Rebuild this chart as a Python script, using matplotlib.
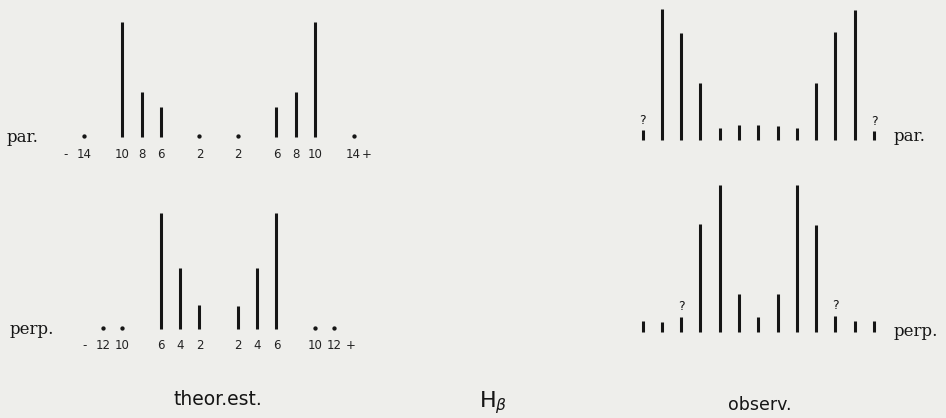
import numpy as np
import matplotlib
matplotlib.use("Agg")
import matplotlib.pyplot as plt

# theoretical components (position in units, relative intensity; 0 = dot only)
theor_par_pos = np.array([-14, -10, -8, -6, -2, 2, 6, 8, 10, 14])
theor_par_int = np.array([0, 115, 45, 30, 0, 0, 30, 45, 115, 0])
theor_perp_pos = np.array([-12, -10, -6, -4, -2, 2, 4, 6, 10, 12])
theor_perp_int = np.array([0, 0, 116, 61, 24, 23, 61, 116, 0, 0])

# observed components
obs_pos = np.arange(-12, 13, 2)
obs_par_int = np.array([10, 131, 107, 57, 12, 15, 15, 14, 12, 57, 108, 130, 9])
obs_perp_int = np.array([11, 10, 15, 108, 147, 38, 15, 38, 147, 107, 16, 11, 11])
obs_par_doubt = [-12, 12]
obs_perp_doubt = [-8, 8]

W, H = 946, 418
BG = "#eeeeeb"
INK = "#151515"

fig = plt.figure(figsize=(W / 100, H / 100), dpi=100, facecolor=BG)


def panel(cx, base, unit=9.63):
    # axes where 1 y unit = 1 pixel and x is in component units
    x0 = cx - 16 * unit
    ax = fig.add_axes([x0 / W, (H - base) / H, 32 * unit / W, 150 / H])
    ax.set_xlim(-16, 16)
    ax.set_ylim(0, 150)
    ax.set_facecolor("none")
    for s in ax.spines.values():
        s.set_visible(False)
    ax.set_xticks([])
    ax.set_yticks([])
    return ax


def draw_lines(ax, pos, inten, lw=2.2):
    on = inten > 0
    ax.vlines(pos[on], 0, inten[on], color=INK, lw=lw, clip_on=False)
    ax.plot(pos[~on], np.full((~on).sum(), 1.5), "o", ms=2.1, color=INK,
            clip_on=False)


num_kw = dict(fontsize=8.5, color="#222222", ha="center", va="center",
              family="DejaVu Sans")
lab_kw = dict(fontsize=12, color=INK, va="baseline", family="DejaVu Serif")
q_kw = dict(fontsize=9, color=INK, ha="center", va="bottom")

# theoretical, parallel
ax1 = panel(218.7, 137)
draw_lines(ax1, theor_par_pos, theor_par_int)
for p in theor_par_pos:
    ax1.text(p, -18, str(abs(p)), **num_kw)
ax1.text(-15.9, -18, "-", **num_kw)
ax1.text(15.4, -18, "+", **num_kw)
ax1.text(-22, -5, "par.", ha="left", **lab_kw)

# theoretical, perpendicular
ax2 = panel(218.7, 329.3)
draw_lines(ax2, theor_perp_pos, theor_perp_int)
for p in theor_perp_pos:
    ax2.text(p, -16, str(abs(p)), **num_kw)
ax2.text(-13.9, -16, "-", **num_kw)
ax2.text(13.7, -16, "+", **num_kw)
ax2.text(-21.7, -5, "perp.", ha="left", **lab_kw)

# observed, parallel
ax3 = panel(758.3, 140, unit=9.64)
draw_lines(ax3, obs_pos, obs_par_int)
for p in obs_par_doubt:
    h = obs_par_int[obs_pos == p][0]
    ax3.text(p, h + 3, "?", **q_kw)
ax3.text(14.0, -1, "par.", ha="left", **lab_kw)

# observed, perpendicular
ax4 = panel(758.3, 332.3, unit=9.64)
draw_lines(ax4, obs_pos, obs_perp_int)
for p in obs_perp_doubt:
    h = obs_perp_int[obs_pos == p][0]
    ax4.text(p, h + 4, "?", **q_kw)
ax4.text(14.0, -4, "perp.", ha="left", **lab_kw)

fig.text(218 / W, (H - 405) / H, "theor.est.", fontsize=13.5, color=INK,
         ha="center", va="baseline")
fig.text(493 / W, (H - 407) / H, r"H$_\beta$", fontsize=16, color=INK,
         ha="center", va="baseline")
fig.text(759.5 / W, (H - 410) / H, "observ.", fontsize=12.5, color=INK,
         ha="center", va="baseline")

fig.savefig("out.png", dpi=100, facecolor=BG)
